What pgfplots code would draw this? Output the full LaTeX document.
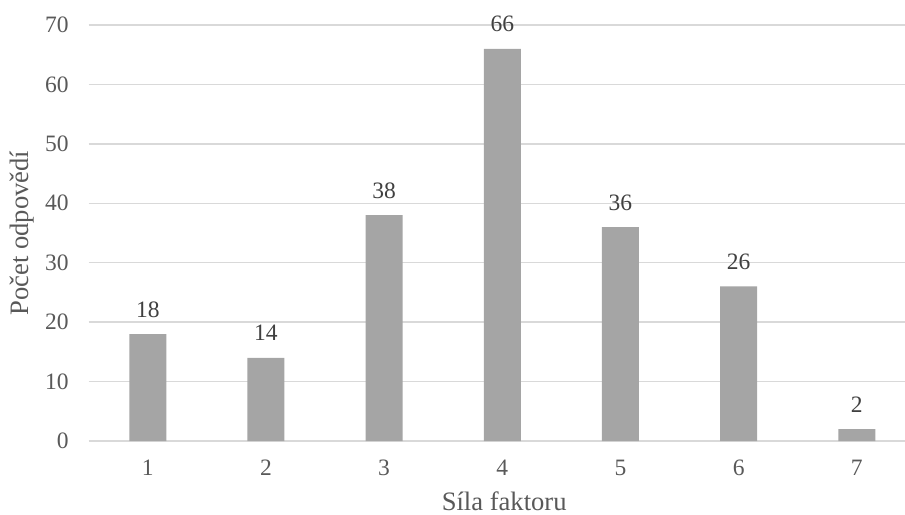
\documentclass[border=0pt]{standalone}
\usepackage{pgfplots}
\pgfplotsset{compat=1.18}
\usepackage{fontspec}
\setmainfont{Liberation Serif}
\definecolor{barc}{HTML}{A5A5A5}
\definecolor{gridc}{HTML}{D9D9D9}
\definecolor{txt}{HTML}{595959}
\definecolor{lbl}{HTML}{404040}
\begin{document}
\begin{tikzpicture}
\useasboundingbox (0,0) rectangle (905bp,515bp);
\begin{axis}[
  at={(88.7bp,74bp)}, anchor=south west,
  scale only axis,
  width=816.3bp, height=416bp,
  xmin=0.5, xmax=7.408,
  ymin=0, ymax=70,
  xtick={1,2,3,4,5,6,7},
  ytick={0,10,...,70},
  ymajorgrids,
  major grid style={draw=gridc, line width=1.3bp},
  axis line style={draw=none},
  major tick length=0pt,
  /pgf/number format/assume math mode=true,
  ticklabel style={font=\fontsize{23.5bp}{28bp}\selectfont, text=txt, inner sep=0pt},
  yticklabel style={anchor=east, xshift=-20bp},
  xticklabel style={anchor=north, yshift=-19bp},
  xlabel={Síla faktoru},
  ylabel={Počet odpovědí},
  label style={font=\fontsize{26.6bp}{31bp}\selectfont, text=txt, inner sep=0pt},
  xlabel style={at={(axis description cs:0.509,0)}, anchor=north, yshift=-51bp},
  ylabel style={at={(axis description cs:-0.0817,0.5)}, anchor=center},
  clip=false,
]
\addplot[ybar, bar width=37bp, fill=barc, draw=none,
  nodes near coords,
  every node near coord/.append style={font=\fontsize{23.5bp}{28bp}\selectfont, text=lbl, anchor=base, inner sep=0pt, yshift=17bp},
] coordinates {(1,18) (2,14) (3,38) (4,66) (5,36) (6,26) (7,2)};
\end{axis}
\end{tikzpicture}
\end{document}
